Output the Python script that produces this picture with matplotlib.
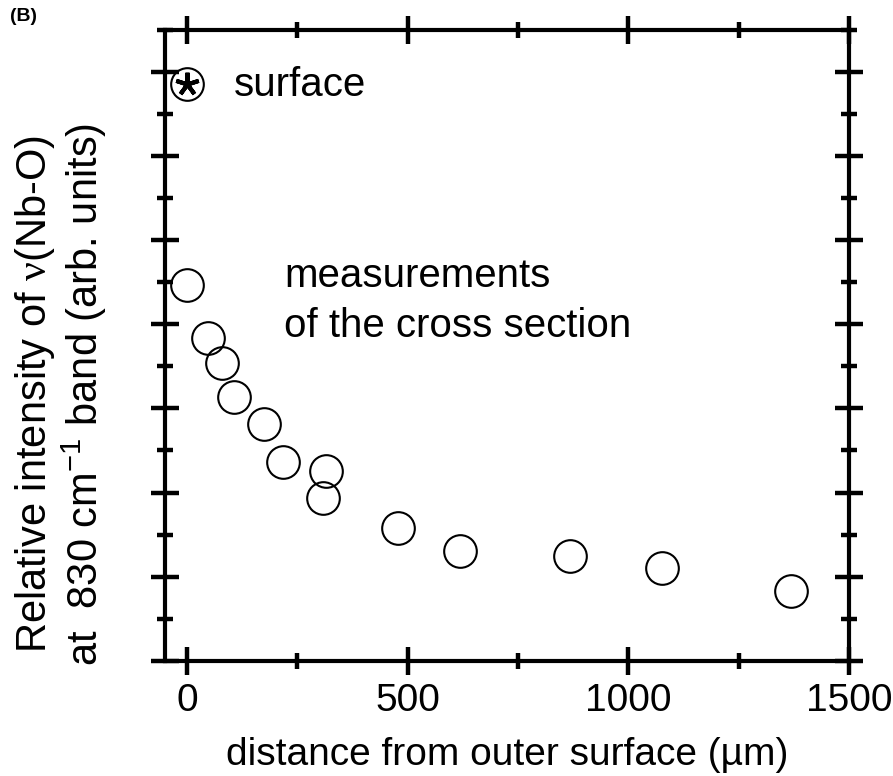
## Relative intensity of the Nb-O band vs distance from the outer surface
import matplotlib
matplotlib.use("Agg")
import matplotlib.pyplot as plt
from matplotlib.ticker import MultipleLocator

plt.rcParams['font.family'] = ['Liberation Sans', 'DejaVu Sans']
plt.rcParams['mathtext.fontset'] = 'custom'
plt.rcParams['mathtext.rm'] = 'Liberation Serif'
plt.rcParams['mathtext.sf'] = 'Liberation Sans'

## Data
distance = [0, 48, 78, 106, 175, 218, 315, 307, 479, 619, 867, 1077, 1369]
intensity = [0.893, 0.767, 0.707, 0.628, 0.562, 0.473, 0.452, 0.386, 0.315, 0.262, 0.249, 0.221, 0.166]
surface_x = [0]
surface_y = [1.371]

x_ticks = [0, 500, 1000, 1500]

fs_text = 29
fs_tick = 28
fs_ylab = 30

fig = plt.figure(figsize=(8.93, 7.76), dpi=100)
ax = fig.add_axes([0.1848, 0.1486, 0.7659, 0.8127])

# cross section points
ax.plot(distance, intensity, linestyle='none', marker='o', ms=23.5,
        mfc='none', mec='black', mew=1.5, clip_on=False)
# surface point: circle with asterisk
ax.plot(surface_x, surface_y, linestyle='none', marker='o', ms=23.5,
        mfc='none', mec='black', mew=1.5, clip_on=False)
ax.plot(surface_x, surface_y, linestyle='none', marker=(5, 2, 0), ms=17,
        mec='black', mew=3, clip_on=False)

ax.text(106, 1.343, 'surface', fontsize=fs_text, va='baseline', ha='left')
ax.text(220, 0.889, 'measurements', fontsize=fs_text, va='baseline', ha='left')
ax.text(220, 0.771, 'of the cross section', fontsize=fs_text, va='baseline', ha='left')

ax.set_xlim(-50, 1500)
ax.set_ylim(0, 1.5)
ax.set_xticks(x_ticks)
ax.xaxis.set_minor_locator(MultipleLocator(250))
ax.yaxis.set_major_locator(MultipleLocator(0.2))
ax.yaxis.set_minor_locator(MultipleLocator(0.1))
ax.set_yticklabels([])

ax.tick_params(which='both', direction='inout', top=True, right=True,
               width=3.2, labelsize=fs_tick, pad=6)
ax.tick_params(which='major', length=20)
ax.tick_params(which='minor', length=12)
for s in ax.spines.values():
    s.set_linewidth(3.0)

ax.set_xlabel('distance from outer surface (\u00b5m)', fontsize=fs_tick, labelpad=13)

fig.text(0.0392, 0.492, r'Relative intensity of $\mathrm{\nu}$(Nb-O)',
         rotation=90, ha='center', va='center', fontsize=fs_ylab)
fig.text(0.094, 0.492, r'at  830 cm$^{\mathsf{-1}}$ band (arb. units)',
         rotation=90, ha='center', va='center', fontsize=fs_ylab)

fig.text(0.011, 0.99, '(B)', fontsize=14, fontweight='bold', ha='left', va='top')

fig.savefig('out.png', dpi=100)
